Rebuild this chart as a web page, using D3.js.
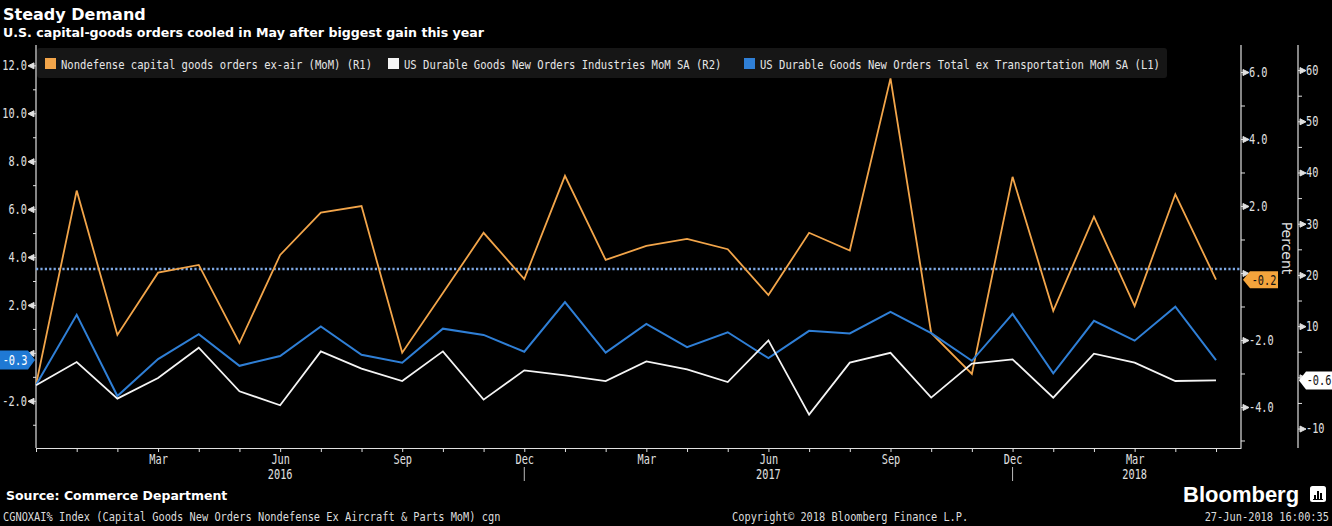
<!DOCTYPE html>
<html><head><meta charset="utf-8">
<script src="https://cdn.jsdelivr.net/npm/d3@7"></script>
<style>html,body{margin:0;padding:0;background:#000;} svg{display:block;}</style>
</head><body><div id="chart"></div>
<script>
// ---------------- data ----------------
const months = ["Dec 2015","Jan 2016","Feb 2016","Mar 2016","Apr 2016","May 2016","Jun 2016","Jul 2016","Aug 2016","Sep 2016","Oct 2016","Nov 2016","Dec 2016",
  "Jan 2017","Feb 2017","Mar 2017","Apr 2017","May 2017","Jun 2017","Jul 2017","Aug 2017","Sep 2017","Oct 2017","Nov 2017","Dec 2017",
  "Jan 2018","Feb 2018","Mar 2018","Apr 2018","May 2018"];
// Nondefense capital goods orders ex-air (MoM) — right axis R1
const capGoodsExAir = [-3.34, 2.46, -1.85, 0.01, 0.24, -2.09, 0.54, 1.80, 2.00, -2.38, -0.60, 1.20, -0.18, 2.90, 0.39, 0.81, 1.02, 0.71, -0.66, 1.20, 0.67, 5.81, -1.79, -3.01, 2.87, -1.13, 1.68, -0.99, 2.35, -0.2];
// US Durable Goods New Orders Industries MoM SA — right axis R2
const durableIndustries = [-1.56, 2.98, -4.15, -0.14, 5.79, -2.73, -5.46, 5.07, 1.70, -0.72, 5.07, -4.35, 1.36, 0.39, -0.72, 3.12, 1.56, -0.92, 7.21, -7.27, 2.87, 4.78, -3.96, 2.67, 3.51, -3.96, 4.62, 2.87, -0.72, -0.6];
// US Durable Goods New Orders Total ex Transportation MoM SA — left axis L1
const durableExTransport = [-1.34, 1.59, -1.80, -0.26, 0.78, -0.54, -0.13, 1.10, -0.08, -0.41, 1.01, 0.75, 0.05, 2.12, 0.01, 1.21, 0.24, 0.86, -0.22, 0.92, 0.81, 1.71, 0.82, -0.33, 1.63, -0.85, 1.34, 0.51, 1.93, -0.3];
const refLevel = 3.5; // dotted reference line, left axis units

const leftTicks = [-2, 0, 2, 4, 6, 8, 10, 12];
const leftMinor = [-3, -1, 1, 3, 5, 7, 9, 11];
const r1Ticks = [-4, -2, 0, 2, 4, 6];
const r1Minor = [-5, -3, -1, 1, 3, 5];
const r2Ticks = [-10, 0, 10, 20, 30, 40, 50, 60];
const r2Minor = [-5, 5, 15, 25, 35, 45, 55];
const quarterIdx = [3, 6, 9, 12, 15, 18, 21, 24, 27];
const quarterLabels = ["Mar", "Jun", "Sep", "Dec", "Mar", "Jun", "Sep", "Dec", "Mar"];
const yearIdx = [6, 18, 27];
const yearLabels = ["2016", "2017", "2018"];
const yearBreakIdx = [12, 24];

const legendLabels = ["Nondefense capital goods orders ex-air (MoM) (R1)",
  "US Durable Goods New Orders Industries MoM SA  (R2)",
  "US Durable Goods New Orders Total ex Transportation MoM SA  (L1)"];

// ---------------- layout ----------------
const W = 1332, H = 526;
const X0 = 36, X1 = 1241, Y0 = 45, Y1 = 448;
const XR2 = 1298;
const ORANGE = "#f2a54a", BLUE = "#2f7fd6", WHITE = "#f4f4f4", AXIS = "#e0e0e0";
const MONO = "'DejaVu Sans Mono', 'Liberation Mono', monospace";
const TICK_SIZE = 13.5, TICK_SX = 0.76;

const svg = d3.select("#chart").append("svg").attr("width", W).attr("height", H);
svg.append("rect").attr("width", W).attr("height", H).attr("fill", "#000");

const x = d3.scaleLinear().domain([0, 29.614]).range([X0, X1]);
const yL = d3.scaleLinear().domain([-3.97, 12.85]).range([Y1, Y0]);
const yR1 = d3.scaleLinear().domain([-5.224, 6.806]).range([Y1, Y0]);
const yR2 = d3.scaleLinear().domain([-13.8, 64.9]).range([Y1, Y0]);

const fmt1 = d => d.toFixed(1);
const fmt0 = d => String(d);

function monoText(g, px, py, str, size, sx, anchor, fill) {
  return g.append("text")
    .attr("transform", `translate(${px},${py}) scale(${sx},1)`)
    .attr("text-anchor", anchor || "start")
    .attr("font-family", MONO).attr("font-size", size)
    .attr("fill", fill || "#e6e6e6").text(str);
}

// ---------------- titles ----------------
svg.append("text").attr("x", 3).attr("y", 20).attr("font-family", "'DejaVu Sans', sans-serif")
  .attr("font-weight", "bold").attr("font-size", 16).attr("fill", "#fff").text("Steady Demand");
svg.append("text").attr("x", 3).attr("y", 37).attr("font-family", "'DejaVu Sans', sans-serif")
  .attr("font-weight", "bold").attr("font-size", 12.6).attr("fill", "#fff")
  .text("U.S. capital-goods orders cooled in May after biggest gain this year");

// ---------------- legend ----------------
svg.append("rect").attr("x", 37).attr("y", 48).attr("width", 1130).attr("height", 30).attr("rx", 3).attr("fill", "#161616");
const legColors = [ORANGE, WHITE, BLUE];
const legX = [45, 388, 744];
legendLabels.forEach((t, i) => {
  svg.append("rect").attr("x", legX[i]).attr("y", 58).attr("width", 11).attr("height", 11).attr("fill", legColors[i]);
  monoText(svg, legX[i] + 16, 68.5, t, 13, 0.812, "start", "#e6e6e6");
});

// ---------------- axes ----------------
function styleAxisText(g) {
  g.selectAll("text").attr("font-family", MONO).attr("font-size", TICK_SIZE).attr("fill", "#e0e0e0")
    .attr("transform", `scale(${TICK_SX},1)`);
}
// left axis
const gL = svg.append("g").attr("transform", `translate(${X0},0)`);
gL.call(d3.axisLeft(yL).tickValues(leftTicks).tickSize(0).tickPadding(12)
  .tickFormat(d => d === 0 ? "" : fmt1(d)));
gL.select(".domain").remove();
styleAxisText(gL);
gL.selectAll(".tick").append("path").attr("d", "M0,0 L-2,0 M-2,-3 L-2,3 L-8,0 Z").attr("fill", AXIS).attr("stroke", AXIS).attr("stroke-width", 1);
const gLm = svg.append("g").attr("transform", `translate(${X0},0)`);
gLm.call(d3.axisLeft(yL).tickValues(leftMinor).tickSize(3).tickFormat(""));
gLm.select(".domain").remove();
gLm.selectAll("line").attr("stroke", AXIS);
svg.append("line").attr("x1", X0).attr("x2", X0).attr("y1", Y0).attr("y2", Y1).attr("stroke", AXIS).attr("stroke-width", 1.2);

// right axis R1
const gR1 = svg.append("g").attr("transform", `translate(${X1},0)`);
gR1.call(d3.axisRight(yR1).tickValues(r1Ticks).tickSize(0).tickPadding(10.5)
  .tickFormat(d => d === 0 ? "" : fmt1(d)));
gR1.select(".domain").remove();
styleAxisText(gR1);
gR1.selectAll(".tick").append("path").attr("d", "M0,0 L2,0 M2,-3 L2,3 L8,0 Z").attr("fill", AXIS).attr("stroke", AXIS).attr("stroke-width", 1);
const gR1m = svg.append("g").attr("transform", `translate(${X1},0)`);
gR1m.call(d3.axisRight(yR1).tickValues(r1Minor).tickSize(4).tickFormat(""));
gR1m.select(".domain").remove();
gR1m.selectAll("line").attr("stroke", AXIS);
svg.append("line").attr("x1", X1).attr("x2", X1).attr("y1", Y0).attr("y2", Y1).attr("stroke", AXIS).attr("stroke-width", 1.2);

// right axis R2
const gR2 = svg.append("g").attr("transform", `translate(${XR2},0)`);
gR2.call(d3.axisRight(yR2).tickValues(r2Ticks).tickSize(0).tickPadding(10.5)
  .tickFormat(d => d === 0 ? "" : fmt0(d)));
gR2.select(".domain").remove();
styleAxisText(gR2);
gR2.selectAll(".tick").append("path").attr("d", "M0,0 L2,0 M2,-3 L2,3 L8,0 Z").attr("fill", AXIS).attr("stroke", AXIS).attr("stroke-width", 1);
const gR2m = svg.append("g").attr("transform", `translate(${XR2},0)`);
gR2m.call(d3.axisRight(yR2).tickValues(r2Minor).tickSize(4).tickFormat(""));
gR2m.select(".domain").remove();
gR2m.selectAll("line").attr("stroke", AXIS);
svg.append("line").attr("x1", XR2).attr("x2", XR2).attr("y1", Y0).attr("y2", Y1).attr("stroke", AXIS).attr("stroke-width", 1.2);

svg.append("text").attr("transform", `translate(1282,248) rotate(90)`).attr("text-anchor", "middle")
  .attr("font-family", "'DejaVu Sans', sans-serif").attr("font-size", 14).attr("fill", "#e0e0e0").text("Percent");

// x axis
const gX = svg.append("g").attr("transform", `translate(0,${Y1})`);
gX.call(d3.axisBottom(x).tickValues(d3.range(months.length)).tickSize(4).tickSizeOuter(0).tickFormat(""));
gX.select(".domain").attr("stroke", AXIS).attr("stroke-width", 1.2);
gX.selectAll("line").attr("stroke", AXIS);
const gXl = svg.append("g").attr("transform", `translate(0,${Y1})`);
gXl.call(d3.axisBottom(x).tickValues(quarterIdx).tickSize(0).tickPadding(6)
  .tickFormat((d, i) => quarterLabels[i]));
gXl.select(".domain").remove();
styleAxisText(gXl);
yearIdx.forEach((d, i) => monoText(svg, x(d), 479, yearLabels[i], TICK_SIZE, TICK_SX, "middle", "#e0e0e0"));
yearBreakIdx.forEach(d => svg.append("line").attr("x1", x(d)).attr("x2", x(d)).attr("y1", 467).attr("y2", 481)
  .attr("stroke", "#bbb").attr("stroke-width", 1));

// ---------------- reference dotted line ----------------
svg.append("line").attr("x1", X0).attr("x2", X1).attr("y1", yL(refLevel)).attr("y2", yL(refLevel))
  .attr("stroke", "#7ea8e4").attr("stroke-width", 2.5).attr("stroke-dasharray", "2.2,2.2");

// ---------------- series ----------------
const lineFor = ys => d3.line().x((d, i) => x(i)).y(d => ys(d));
svg.append("path").datum(capGoodsExAir).attr("d", lineFor(yR1)).attr("fill", "none")
  .attr("stroke", ORANGE).attr("stroke-width", 1.8).attr("stroke-linejoin", "miter");
svg.append("path").datum(durableExTransport).attr("d", lineFor(yL)).attr("fill", "none")
  .attr("stroke", BLUE).attr("stroke-width", 2).attr("stroke-linejoin", "miter");
svg.append("path").datum(durableIndustries).attr("d", lineFor(yR2)).attr("fill", "none")
  .attr("stroke", WHITE).attr("stroke-width", 1.8).attr("stroke-linejoin", "miter");

// ---------------- last value tags ----------------
const lastL = durableExTransport[durableExTransport.length - 1];
const lastR1 = capGoodsExAir[capGoodsExAir.length - 1];
const lastR2 = durableIndustries[durableIndustries.length - 1];
(function () {
  const y = yL(lastL);
  svg.append("path").attr("d", `M0,${y - 9.5} L28,${y - 9.5} L35,${y} L28,${y + 9.5} L0,${y + 9.5} Z`).attr("fill", "#1f79d4");
  monoText(svg, 15, y + 5, fmt1(lastL), TICK_SIZE, TICK_SX, "middle", "#fff");
})();
(function () {
  const y = yR1(lastR1);
  svg.append("path").attr("d", `M${X1 + 2},${y} L${X1 + 9},${y - 8.5} L${X1 + 37},${y - 8.5} L${X1 + 37},${y + 8.5} L${X1 + 9},${y + 8.5} Z`).attr("fill", "#f4a43c");
  monoText(svg, X1 + 23, y + 5, fmt1(lastR1), TICK_SIZE, TICK_SX, "middle", "#111");
})();
(function () {
  const y = yR2(lastR2);
  svg.append("path").attr("d", `M${XR2 + 1},${y} L${XR2 + 8},${y - 9} L${W},${y - 9} L${W},${y + 9} L${XR2 + 8},${y + 9} Z`).attr("fill", "#fff");
  monoText(svg, XR2 + 21, y + 5, fmt1(lastR2), TICK_SIZE, TICK_SX, "middle", "#111");
})();

// ---------------- footer ----------------
svg.append("text").attr("x", 6).attr("y", 500).attr("font-family", "'DejaVu Sans', sans-serif")
  .attr("font-weight", "bold").attr("font-size", 12.5).attr("fill", "#fff").text("Source: Commerce Department");
monoText(svg, 3, 521, "CGNOXAI% Index (Capital Goods New Orders Nondefense Ex Aircraft & Parts MoM) cgn", 13, 0.795, "start", "#dcdcdc");
monoText(svg, 732, 521, "Copyright\u00a9 2018 Bloomberg Finance L.P.", 13, 0.795, "start", "#dcdcdc");
monoText(svg, 1329, 521, "27-Jun-2018 16:00:35", 13, 0.795, "end", "#dcdcdc");
svg.append("text").attr("x", 1183).attr("y", 502).attr("font-family", "'Liberation Sans', Arial, sans-serif")
  .attr("font-weight", "bold").attr("font-size", 22).attr("fill", "#fff").text("Bloomberg");
svg.append("rect").attr("x", 1310).attr("y", 486).attr("width", 16).attr("height", 16).attr("rx", 2.5).attr("fill", "#fff");
[[1314, 495, 2, 4], [1317, 491, 2, 8], [1320, 493, 2, 6]].forEach(b =>
  svg.append("rect").attr("x", b[0]).attr("y", b[1]).attr("width", b[2]).attr("height", b[3]).attr("fill", "#000"));
svg.append("rect").attr("x", 1313).attr("y", 499).attr("width", 10).attr("height", 1).attr("fill", "#000");
</script>
</body></html>
